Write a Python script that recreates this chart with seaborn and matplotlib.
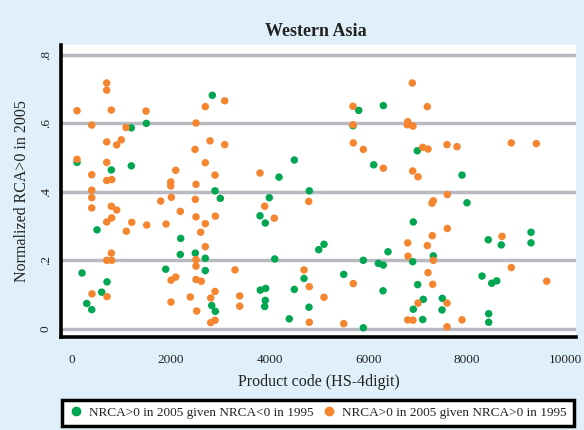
import numpy as np
import pandas as pd
import matplotlib
matplotlib.use("Agg")
import matplotlib.pyplot as plt
from matplotlib.lines import Line2D
import seaborn as sns

# ---------------- data ----------------
green_x = [2841, 1201, 1505, 101, 796, 1201, 2896, 3003, 3995, 4805,
           4192, 4502, 3807, 3914, 506, 2201, 4996, 2193, 2497, 2699,
           4105, 203, 1897, 2699, 4698, 709, 601, 3813, 3922, 4502,
           3914, 3902, 298, 399, 2829, 2902, 4799, 4400, 5806, 6304,
           5690, 6992, 6109, 7898, 7999, 6911, 5103, 6399, 7316, 6899,
           5899, 6203, 6304, 8430, 8693, 9295, 9295, 8303, 8499, 8600,
           5502, 7000, 6298, 7114, 7499, 6911, 7493, 8438, 8438, 7102,
           5899]
green_y = [0.682, 0.587, 0.600, 0.486, 0.464, 0.476, 0.403, 0.381, 0.383, 0.403,
           0.443, 0.493, 0.330, 0.309, 0.289, 0.264, 0.231, 0.217, 0.221, 0.206,
           0.204, 0.163, 0.174, 0.170, 0.147, 0.137, 0.107, 0.113, 0.118, 0.115,
           0.083, 0.065, 0.074, 0.056, 0.068, 0.051, 0.063, 0.029, 0.638, 0.652,
           0.593, 0.520, 0.479, 0.449, 0.368, 0.312, 0.247, 0.225, 0.213, 0.196,
           0.200, 0.191, 0.186, 0.260, 0.245, 0.282, 0.251, 0.154, 0.133, 0.140,
           0.159, 0.129, 0.111, 0.086, 0.089, 0.057, 0.055, 0.044, 0.019, 0.027,
           0.003]

orange_x = [703, 703, 101, 796, 1499, 3092, 2699, 399, 1094, 2511,
            703, 998, 905, 2795, 3092, 2491, 101, 703, 2699, 2100,
            399, 2896, 1999, 1999, 2511, 703, 804, 399, 399, 1796,
            2011, 2497, 3807, 4793, 399, 796, 905, 804, 703, 2193,
            2511, 2902, 3902, 4097, 1209, 1513, 1904, 2699, 1100, 2606,
            2699, 796, 703, 804, 2511, 2511, 3301, 4698, 2005, 2100,
            2511, 2618, 4805, 405, 709, 2896, 2809, 2396, 3396, 2005,
            2525, 3396, 2809, 2896, 4805, 6891, 5690, 7195, 5690, 6798,
            6790, 6905, 5696, 5899, 7102, 7209, 7594, 7796, 8896, 9402,
            6304, 6899, 7007, 7600, 7316, 7290, 7600, 7296, 6798, 7195,
            6804, 7316, 8708, 8896, 9613, 5696, 7209, 7304, 5103, 7007,
            7594, 6798, 6905, 7898, 5502, 7594]
orange_y = [0.718, 0.697, 0.637, 0.639, 0.636, 0.666, 0.649, 0.595, 0.588, 0.601,
            0.546, 0.552, 0.537, 0.549, 0.538, 0.524, 0.495, 0.486, 0.485, 0.463,
            0.450, 0.449, 0.429, 0.417, 0.422, 0.433, 0.436, 0.405, 0.383, 0.373,
            0.384, 0.378, 0.455, 0.372, 0.353, 0.358, 0.347, 0.324, 0.312, 0.343,
            0.327, 0.329, 0.358, 0.323, 0.311, 0.303, 0.306, 0.307, 0.285, 0.282,
            0.240, 0.221, 0.200, 0.200, 0.202, 0.183, 0.172, 0.172, 0.142, 0.151,
            0.144, 0.139, 0.123, 0.102, 0.094, 0.109, 0.090, 0.093, 0.096, 0.078,
            0.052, 0.066, 0.018, 0.025, 0.019, 0.718, 0.650, 0.649, 0.596, 0.605,
            0.596, 0.592, 0.543, 0.524, 0.530, 0.525, 0.538, 0.532, 0.543, 0.541,
            0.469, 0.461, 0.444, 0.392, 0.374, 0.367, 0.293, 0.272, 0.251, 0.243,
            0.212, 0.200, 0.270, 0.179, 0.139, 0.132, 0.164, 0.130, 0.092, 0.075,
            0.075, 0.026, 0.025, 0.026, 0.015, 0.006]

series_labels = ["NRCA>0 in 2005 given NRCA<0 in 1995",
                 "NRCA>0 in 2005 given NRCA>0 in 1995"]
x_ticks = [0, 2000, 4000, 6000, 8000, 10000]
x_tick_labels = ["0", "2000", "4000", "6000", "8000", "10000"]
y_ticks = [0, 0.2, 0.4, 0.6, 0.8]
y_tick_labels = ["0", ".2", ".4", ".6", ".8"]
title = "Western Asia"
x_label = "Product code (HS-4digit)"
y_label = "Normalized RCA>0 in 2005"

# ---------------- style ----------------
BG = "#dff0fa"
GREEN = "#00a651"
ORANGE = "#f5852f"
GRID = "#b9b9c1"

sns.set_style("white")
plt.rcParams["font.family"] = ["Liberation Serif", "DejaVu Serif"]

df = pd.concat([
    pd.DataFrame({"x": green_x, "y": green_y, "group": series_labels[0]}),
    pd.DataFrame({"x": orange_x, "y": orange_y, "group": series_labels[1]}),
], ignore_index=True)

W, H = 584, 430
fig = plt.figure(figsize=(W / 100, H / 100), dpi=100, facecolor=BG)
ax = fig.add_axes([61 / W, (H - 337) / H, 515 / W, (337 - 45) / H])
ax.set_facecolor("white")

sns.scatterplot(data=df, x="x", y="y", hue="group",
                palette={series_labels[0]: GREEN, series_labels[1]: ORANGE},
                s=29, linewidth=0, alpha=1, ax=ax, legend=False, zorder=3)

ax.set_xlim(-223, 10206)
ax.set_ylim(-0.024, 0.829)
ax.set_xticks(x_ticks)
ax.set_xticklabels(x_tick_labels)
ax.set_yticks(y_ticks)
ax.set_yticklabels(y_tick_labels, rotation=90, va="center")

ax.yaxis.grid(True, color=GRID, linewidth=2.5)
ax.xaxis.grid(False)
ax.set_axisbelow(True)

for s in ["top", "right"]:
    ax.spines[s].set_visible(False)
for s in ["left", "bottom"]:
    ax.spines[s].set_color("black")
    ax.spines[s].set_linewidth(2.6)

ax.tick_params(axis="both", direction="out", length=5, width=1.6,
               color="black", labelsize=9.5, labelcolor="#222222")
ax.tick_params(axis="x", pad=7)
ax.tick_params(axis="y", pad=1.5)

ax.set_xlabel(x_label, fontsize=11.5, color="#222222")
ax.set_ylabel(y_label, fontsize=11.5, color="#222222")
ax.xaxis.set_label_coords(0.5, (337 - 382) / 292)
ax.yaxis.set_label_coords((22 - 61) / 515, 0.5)
ax.xaxis.label.set_va("center")
ax.yaxis.label.set_va("center")

fig.text(316 / W, 1 - 32 / H, title, ha="center", va="center",
         fontsize=13, fontweight="bold", color="#222222")

handles = [Line2D([], [], marker="o", ls="", color=GREEN, markersize=6),
           Line2D([], [], marker="o", ls="", color=ORANGE, markersize=6)]
leg = fig.legend(handles, series_labels, loc="lower left",
                 bbox_to_anchor=(61.5 / W, 4.5 / H, 512 / W, 27.5 / H),
                 mode="expand", ncol=2, frameon=True, fancybox=False,
                 edgecolor="black", facecolor="white", framealpha=1,
                 fontsize=9.5, handletextpad=0.4, borderaxespad=0,
                 handlelength=1.2, borderpad=0.5)
leg.get_frame().set_linewidth(2.5)
for t in leg.get_texts():
    t.set_color("#222222")

fig.savefig("out.png", dpi=100, facecolor=BG)
